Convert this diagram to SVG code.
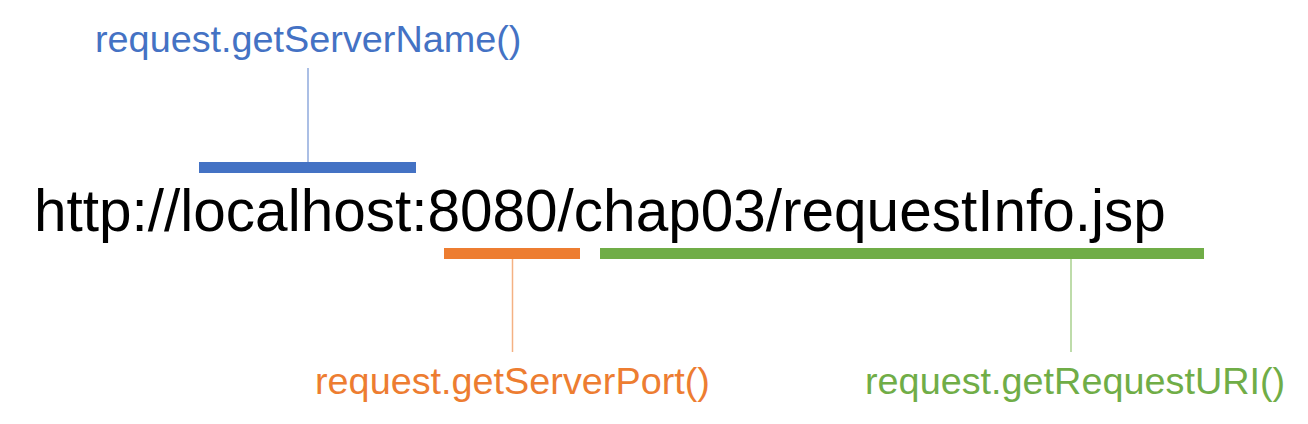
<svg xmlns="http://www.w3.org/2000/svg" width="1308" height="424" viewBox="0 0 1308 424">
<style>
text{font-family:"Liberation Sans",Arial,Helvetica,sans-serif}
.url{font-size:58.5px;fill:#000}
.lbl{font-size:37.8px}
.blue{fill:#4472C4}
.orange{fill:#ED7D31}
.green{fill:#70AD47}
.conn{stroke-width:1.5;fill:none}
</style>
<rect width="1308" height="424" fill="#fff"/>
<g id="url-node">
<text class="url" x="34" y="231">http://localhost:8080/chap03/requestInfo.jsp</text>
</g>
<g id="connectors">
<line class="conn" x1="308" y1="68" x2="308" y2="162" stroke="#8FAADC"/>
<line class="conn" x1="512.5" y1="259" x2="512.5" y2="352" stroke="#F4B183"/>
<line class="conn" x1="1071" y1="259" x2="1071" y2="352" stroke="#A9D18E"/>
</g>
<g id="server-name">
<rect class="blue" x="199" y="162" width="217" height="11"/>
<text class="lbl blue" x="95" y="52">request.getServerName()</text>
</g>
<g id="server-port">
<rect class="orange" x="444" y="248" width="136" height="11"/>
<text class="lbl orange" x="315" y="394">request.getServerPort()</text>
</g>
<g id="request-uri">
<rect class="green" x="600" y="248" width="604" height="11"/>
<text class="lbl green" x="865" y="394">request.getRequestURI()</text>
</g>
</svg>
